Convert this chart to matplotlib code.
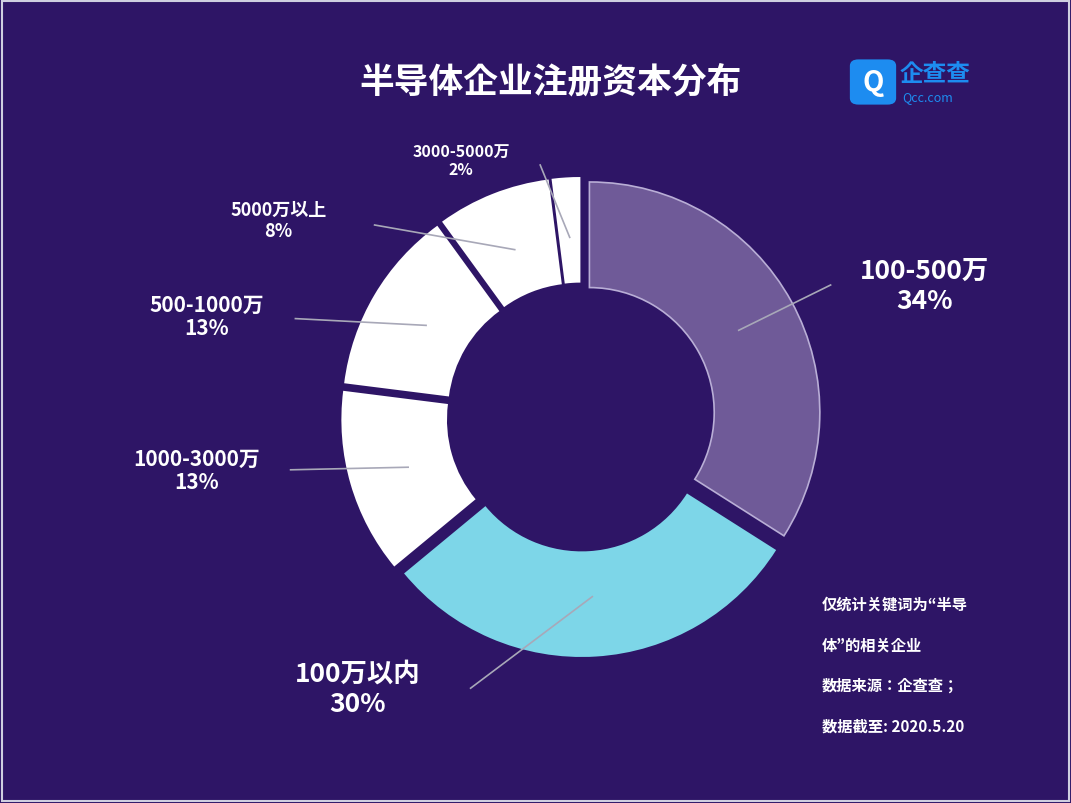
import numpy as np
import matplotlib.pyplot as plt
from matplotlib.patches import FancyBboxPatch, Rectangle

plt.rcParams['font.family'] = ['Noto Sans CJK JP', 'Noto Sans CJK SC', 'DejaVu Sans']

# data (clockwise from top)
categories = ['100-500万', '100万以内', '1000-3000万', '500-1000万', '5000万以上', '3000-5000万']
shares = [34, 30, 13, 13, 8, 2]
colors = ['#6f5a98', '#7dd6e8', '#ffffff', '#ffffff', '#ffffff', '#ffffff']
# label anchor positions (data units, radius 1 = outer ring)
label_xy = [(1.43, 0.55), (-0.93, -1.13), (-1.6, -0.22), (-1.56, 0.42), (-1.26, 0.82), (-0.5, 1.07)]
label_size = [19, 19, 15, 15, 13, 11.5]
line_end = [(1.04, 0.55), (-0.46, -1.13), (-1.21, -0.22), (-1.19, 0.41), (-0.86, 0.80), (-0.17, 1.05)]

bg = '#2e1566'
fig = plt.figure(figsize=(10.71, 8.04), dpi=100, facecolor=bg)
fig.patches.append(Rectangle((0.002, 0.002), 0.996, 0.996, transform=fig.transFigure,
                             fill=False, edgecolor='#cfcfe0', lw=1.5))

ax = fig.add_axes([(581 - 300) / 1071, (804 - 418 - 300) / 804, 600 / 1071, 600 / 804])
ax.set_facecolor(bg)
ax.set_xlim(-1.25, 1.25)
ax.set_ylim(-1.25, 1.25)
ax.axis('off')

wedges, _ = ax.pie(shares, colors=colors, startangle=90, counterclock=False,
                   explode=[0.04] * len(shares), radius=0.96,
                   wedgeprops=dict(width=0.44, edgecolor='none'))
wedges[0].set_edgecolor('#b9aed6')
wedges[0].set_linewidth(1.2)

for w, cat, s, (tx, ty), fs, (ex, ey) in zip(wedges, categories, shares, label_xy, label_size, line_end):
    ang = np.deg2rad((w.theta1 + w.theta2) / 2)
    r = 0.75
    sx, sy = r * np.cos(ang), r * np.sin(ang)
    ax.plot([sx, ex], [sy, ey], color='#a8a8b8', lw=1.2, zorder=5, clip_on=False)
    ax.text(tx, ty, f'{cat}\n{s}%', ha='center', va='center', color='white',
            fontsize=fs, fontweight='bold', linespacing=1.15, clip_on=False)

fig.text(550 / 1071, 1 - 82 / 804, '半导体企业注册资本分布', ha='center', va='center',
         color='white', fontsize=25, fontweight='bold')

# logo
fig.patches.append(FancyBboxPatch((852 / 1071, 1 - 104 / 804), 42 / 1071, 42 / 804,
                                  boxstyle='round,pad=0.002,rounding_size=0.008',
                                  transform=fig.transFigure, facecolor='#1d8cf0', edgecolor='none'))
fig.text(873 / 1071, 1 - 83 / 804, 'Q', ha='center', va='center', color='white',
         fontsize=20, fontweight='bold')
fig.text(900 / 1071, 1 - 74 / 804, '企查查', ha='left', va='center', color='#1d8cf0',
         fontsize=17, fontweight='bold')
fig.text(902 / 1071, 1 - 98 / 804, 'Qcc.com', ha='left', va='center', color='#1d8cf0',
         fontsize=9)

notes = ['仅统计关键词为“半导', '体”的相关企业', '数据来源：企查查；', '数据截至: 2020.5.20']
for i, n in enumerate(notes):
    fig.text(822 / 1071, 1 - (605 + 40.5 * i) / 804, n, ha='left', va='center',
             color='white', fontsize=11, fontweight='bold')

fig.savefig('out.png', dpi=100, facecolor=bg)
